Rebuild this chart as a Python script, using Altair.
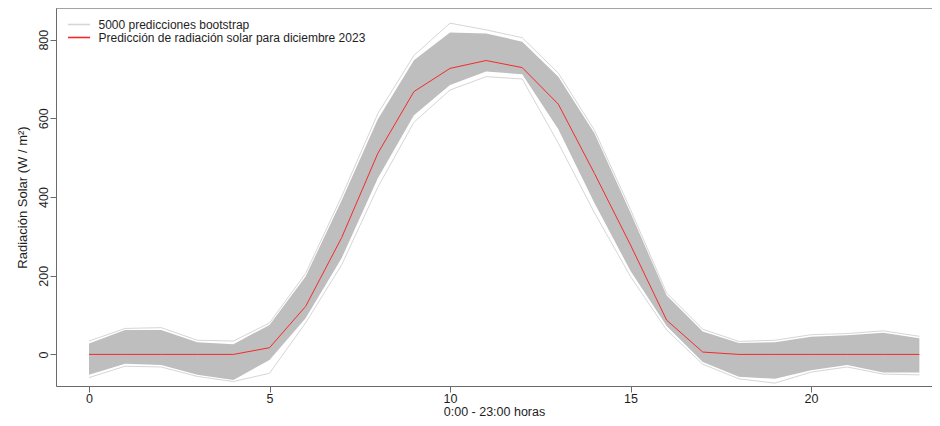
import altair as alt
import pandas as pd

# ---- data ----
horas = list(range(24))
prediccion = [0, 0, 0, 0, 0, 17, 122, 297, 511, 668, 727, 747, 729, 636, 460, 278, 87, 6, 0, 0, 0, 0, 0, 0]
# dense bootstrap band (lower / upper envelope of the bulk of the 5000 lines)
banda_inf = [-52, -24, -27, -52, -65, -14, 92, 245, 448, 608, 685, 719, 712, 572, 385, 212, 72, -19, -57, -62, -40, -27, -46, -46]
banda_sup = [28, 62, 62, 31, 26, 75, 198, 392, 598, 748, 818, 816, 795, 706, 562, 360, 150, 58, 29, 31, 45, 49, 55, 41]
# outermost (sparse) bootstrap traces
extremo_inf = [-59, -30, -32, -56, -69, -48, 80, 228, 425, 590, 672, 706, 700, 537, 360, 198, 62, -25, -62, -73, -45, -32, -50, -52]
extremo_sup = [34, 66, 68, 36, 34, 80, 206, 402, 612, 760, 842, 825, 805, 715, 570, 368, 156, 64, 33, 36, 50, 53, 60, 46]

serie_boot = "5000 predicciones bootstrap"
serie_pred = "Predicción de radiación solar para diciembre 2023"

banda = pd.DataFrame({"hora": horas, "inf": banda_inf, "sup": banda_sup})

filas = []
for h, v in zip(horas, extremo_inf):
    filas.append({"hora": h, "valor": v, "serie": serie_boot, "traza": "inf"})
for h, v in zip(horas, extremo_sup):
    filas.append({"hora": h, "valor": v, "serie": serie_boot, "traza": "sup"})
for h, v in zip(horas, prediccion):
    filas.append({"hora": h, "valor": v, "serie": serie_pred, "traza": "pred"})
lineas = pd.DataFrame(filas)

FONT = "Liberation Sans, Arial, sans-serif"
AXC = "#6a6a6a"
TXT = "#1e1e1e"
W, H = 876, 378

x_scale = alt.Scale(domain=[-0.914, 23.35], nice=False, zero=False)
y_scale = alt.Scale(domain=[-80.3, 880.5], nice=False, zero=False)

x_axis = alt.Axis(
    title="0:00 - 23:00 horas", values=[0, 5, 10, 15, 20], grid=False,
    tickSize=6, labelPadding=0, labelFontSize=12.5, titleFontSize=12.5,
    titleY=29, titleBaseline="alphabetic", titleFontWeight="normal",
    domainColor=AXC, tickColor=AXC, labelColor=TXT, titleColor=TXT,
    labelFont=FONT, titleFont=FONT,
)
y_axis = alt.Axis(
    title="Radiación Solar (W / m²)", values=[0, 200, 400, 600, 800], grid=False,
    tickSize=6, labelPadding=3, labelAngle=270, labelAlign="center",
    labelBaseline="alphabetic", labelFontSize=12.5, titleFontSize=13,
    titleX=-34, titleBaseline="middle", titleFontWeight="normal",
    domainColor=AXC, tickColor=AXC, labelColor=TXT, titleColor=TXT,
    labelFont=FONT, titleFont=FONT,
)

area = alt.Chart(banda).mark_area(color="#bebebe", opacity=1).encode(
    x=alt.X("hora:Q", scale=x_scale, axis=x_axis),
    y=alt.Y("inf:Q", scale=y_scale, axis=y_axis),
    y2="sup:Q",
)

lin = alt.Chart(lineas).mark_line(strokeWidth=1).encode(
    x=alt.X("hora:Q", scale=x_scale),
    y=alt.Y("valor:Q", scale=y_scale),
    detail="traza:N",
    color=alt.Color(
        "serie:N",
        scale=alt.Scale(domain=[serie_boot, serie_pred], range=["#d6d6d6", "#f52a2a"]),
        legend=alt.Legend(
            title=None, orient="none", legendX=16.5, legendY=10,
            symbolType="M-2,0H2", symbolSize=121, symbolStrokeWidth=1.6,
            labelFontSize=12, labelFont=FONT, labelColor=TXT, labelLimit=500,
            labelOffset=13, rowPadding=-4, padding=0,
        ),
    ),
    strokeWidth=alt.condition(
        alt.datum.serie == serie_pred, alt.value(1.8), alt.value(1)
    ),
    order=alt.Order("hora:Q"),
)

borde = alt.Chart(pd.DataFrame({"k": [0]})).mark_rule(color=AXC, strokeWidth=1).encode(
    x=alt.value(0), x2=alt.value(W), y=alt.value(0)
)

chart = alt.layer(area, lin, borde).properties(
    width=W, height=H,
    autosize=alt.AutoSizeParams(type="none"),
    padding={"left": 48, "top": 0, "right": 0, "bottom": 32},
).configure_view(stroke=None).configure(background="white")

chart.save("out.html", embed_options={"renderer": "svg", "actions": False})
